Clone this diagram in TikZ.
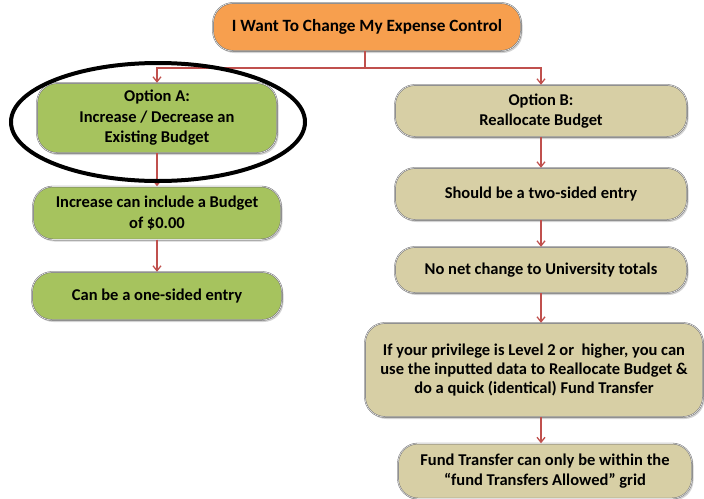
\documentclass[tikz,border=0pt]{standalone}
\usepackage{fontspec}
\setmainfont{Carlito}
\usetikzlibrary{shapes.geometric,shadows,arrows.meta,calc}
\definecolor{orangefill}{HTML}{F79F4E}
\definecolor{greenfill}{HTML}{A6C35E}
\definecolor{tanfill}{HTML}{D7CFA5}
\definecolor{arrred}{HTML}{C0504D}
\tikzset{
  box/.style={rounded corners=20pt, draw=black!60, double=white!75!gray, double distance=0.7pt,
    align=center, inner sep=0pt, font=\bfseries\fontsize{16.5}{20.5}\selectfont,
    drop shadow={opacity=0.35, shadow xshift=1.5pt, shadow yshift=-2pt}},
  obox/.style={box, fill=orangefill},
  gbox/.style={box, fill=greenfill},
  tbox/.style={box, fill=tanfill},
  arr/.style={draw=arrred, line width=1.3pt, -{Straight Barb[length=5pt,width=8pt]}},
}
\begin{document}
\begin{tikzpicture}[x=1pt,y=-1pt]
\useasboundingbox (0,0) rectangle (704,498);
\node[obox, minimum width=308pt, minimum height=48pt, font=\bfseries\fontsize{17.2}{20}\selectfont] (top) at (367,27) {I Want To Change My Expense Control};
\node[gbox, minimum width=240pt, minimum height=70pt] (optA) at (157,118) {Option A:\\Increase / Decrease an\\Existing Budget};
\node[gbox, minimum width=248pt, minimum height=53pt] (inc) at (157,213) {Increase can include a Budget\\of \$0.00};
\node[gbox, minimum width=250pt, minimum height=48pt] (one) at (157,296) {Can be a one-sided entry};
\node[tbox, minimum width=292pt, minimum height=52pt] (optB) at (541,111) {Option B:\\Reallocate Budget};
\node[tbox, minimum width=292pt, minimum height=52pt] (should) at (541,194) {Should be a two-sided entry};
\node[tbox, minimum width=292pt, minimum height=46pt] (nonet) at (541,270) {No net change to University totals};
\node[tbox, minimum width=338pt, minimum height=94pt, font=\bfseries\fontsize{16.5}{18.8}\selectfont] (priv) at (534,370) {If your privilege is Level 2 or\ \ higher, you can\\use the inputted data to Reallocate Budget \&\\do a quick (identical) Fund Transfer};
\node[tbox, minimum width=294pt, minimum height=55pt, font=\bfseries\fontsize{16.5}{19.5}\selectfont] (fund) at (545,471) {Fund Transfer can only be within the\\``fund Transfers Allowed'' grid};
\coordinate (split) at (365,68);
\draw[draw=arrred, line width=1.3pt] (top.south -| split) -- (split);
\draw[arr] (split) -| (optA.north);
\draw[arr] (split) -| (optB.north);
\draw[arr] (optA.south) -- (inc.north);
\draw[arr] (inc.south) -- (one.north);
\draw[arr] (optB.south) -- (should.north);
\draw[arr] (should.south) -- (nonet.north);
\draw[arr] (nonet.south) -- (nonet.south |- priv.north);
\draw[arr] (priv.south -| nonet.south) -- (nonet.south |- fund.north);
\node[draw=black, line width=4pt, ellipse, minimum width=294pt, minimum height=118pt, inner sep=0pt] (ring) at (158,122) {};
\end{tikzpicture}
\end{document}
